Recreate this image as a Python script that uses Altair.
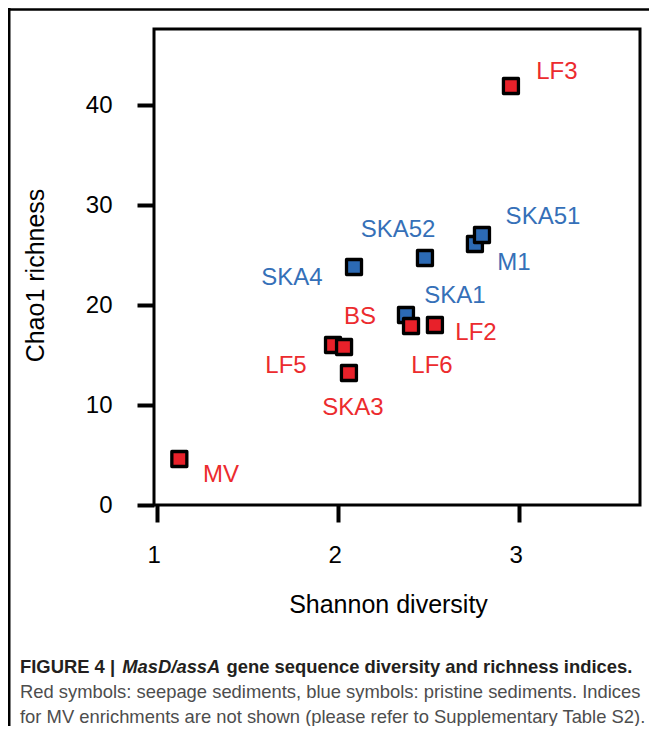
import altair as alt
import pandas as pd

# ---- data ----
samples = ["MV", "LF5", "BS", "SKA3", "SKA1", "LF6", "LF2", "SKA4", "SKA52", "M1", "SKA51", "LF3"]
groups = ["seep", "seep", "seep", "seep", "pristine", "seep", "seep", "pristine", "pristine", "pristine", "pristine", "seep"]
shannon = [1.125, 1.974, 2.035, 2.062, 2.377, 2.405, 2.537, 2.090, 2.482, 2.758, 2.797, 2.957]
chao1 = [4.6, 16.0, 15.8, 13.2, 19.0, 17.9, 18.0, 23.8, 24.7, 26.1, 27.0, 41.9]
# label anchor positions in data units
label_x = [1.355, 1.714, 2.123, 2.084, 2.648, 2.521, 2.764, 1.747, 2.333, 2.974, 3.134, 3.211]
label_y = [3.0, 13.9, 18.8, 9.7, 20.9, 13.9, 17.2, 22.7, 27.5, 24.2, 28.8, 43.3]

x_ticks = [1, 2, 3]
y_ticks = [0, 10, 20, 30, 40]

caption_bold_1 = "FIGURE 4 |"
caption_italic = "MasD/assA"
caption_bold_2 = "gene sequence diversity and richness indices."
caption_line_2 = "Red symbols: seepage sediments, blue symbols: pristine sediments. Indices"
caption_line_3 = "for MV enrichments are not shown (please refer to Supplementary Table S2)."

df = pd.DataFrame({
    "sample": samples, "group": groups, "shannon": shannon, "chao1": chao1,
    "lx": label_x, "ly": label_y,
})

FONT = "Liberation Sans"
W, H = 486, 476
PAD = {"left": 146, "top": 21, "right": 9, "bottom": 221}

xscale = alt.Scale(domain=[0.985, 3.67], nice=False, zero=False)
yscale = alt.Scale(domain=[0, 47.6], nice=False, zero=False)

fill_scale = alt.Scale(domain=["seep", "pristine"], range=["#E8212A", "#2C6AB4"])
text_scale = alt.Scale(domain=["seep", "pristine"], range=["#EC2B2E", "#3570B8"])

base = alt.Chart(df)

points = base.mark_point(
    shape="square", filled=True, size=225, stroke="black", strokeWidth=3.3,
    strokeJoin="round", opacity=1,
).encode(
    x=alt.X("shannon:Q", scale=xscale,
            axis=alt.Axis(values=x_ticks, format="d", title="Shannon diversity",
                          titlePadding=25, labelPadding=21, labelOffset=-3, titleX=234)),
    y=alt.Y("chao1:Q", scale=yscale,
            axis=alt.Axis(values=y_ticks, format="d", title="Chao1 richness",
                          titlePadding=37, labelPadding=25, titleY=246)),
    fill=alt.Fill("group:N", scale=fill_scale, legend=None),
)

labels = base.mark_text(font=FONT, fontSize=24, align="center", baseline="middle").encode(
    x=alt.X("lx:Q", scale=xscale),
    y=alt.Y("ly:Q", scale=yscale),
    text="sample:N",
    color=alt.Color("group:N", scale=text_scale, legend=None),
)

one = alt.Data(values=[{"a": 1}])

frame_top = alt.Chart(one).mark_rule(color="black", strokeWidth=2.5).encode(
    x=alt.value(-PAD["left"]), x2=alt.value(W + PAD["right"]), y=alt.value(-19.5)
)
frame_left = alt.Chart(one).mark_rule(color="black", strokeWidth=2.5).encode(
    x=alt.value(-PAD["left"] + 1.25), y=alt.value(-21), y2=alt.value(H + PAD["bottom"])
)

cx = -134
cap_size = 18.4
sp = cap_size * 0.278
w1 = cap_size * 5.448 + 2
w2 = cap_size * 5.335 + sp + 1
cap1 = alt.Chart(one).mark_text(font=FONT, fontSize=cap_size, fontWeight="bold", align="left",
                                baseline="middle", color="#231F20").encode(
    x=alt.value(cx), y=alt.value(638), text=alt.value(caption_bold_1))
cap2 = alt.Chart(one).mark_text(font=FONT, fontSize=cap_size, fontWeight="bold", fontStyle="italic",
                                align="left", baseline="middle", color="#231F20").encode(
    x=alt.value(cx + w1), y=alt.value(638), text=alt.value(caption_italic))
cap3 = alt.Chart(one).mark_text(font=FONT, fontSize=cap_size, fontWeight="bold", align="left",
                                baseline="middle", color="#231F20").encode(
    x=alt.value(cx + w1 + w2), y=alt.value(638), text=alt.value(caption_bold_2))
cap4 = alt.Chart(one).mark_text(font=FONT, fontSize=cap_size, align="left",
                                baseline="middle", color="#4D4D4D").encode(
    x=alt.value(cx), y=alt.value(663), text=alt.value(caption_line_2))
cap5 = alt.Chart(one).mark_text(font=FONT, fontSize=cap_size, align="left",
                                baseline="middle", color="#4D4D4D").encode(
    x=alt.value(cx), y=alt.value(688), text=alt.value(caption_line_3))

chart = alt.layer(
    points, labels, frame_top, frame_left, cap1, cap2, cap3, cap4, cap5
).properties(
    width=W, height=H, padding=PAD,
    autosize=alt.AutoSizeParams(type="none"),
    background="white",
).configure_view(
    stroke="black", strokeWidth=3,
).configure_axis(
    domain=False, grid=False, ticks=True, tickSize=17, tickWidth=4, tickColor="black",
    labelFont=FONT, labelFontSize=24, labelColor="black",
    titleFont=FONT, titleFontSize=25, titleFontWeight="normal", titleColor="black",
)

chart.save("out.html", embed_options={"renderer": "svg", "actions": False})
